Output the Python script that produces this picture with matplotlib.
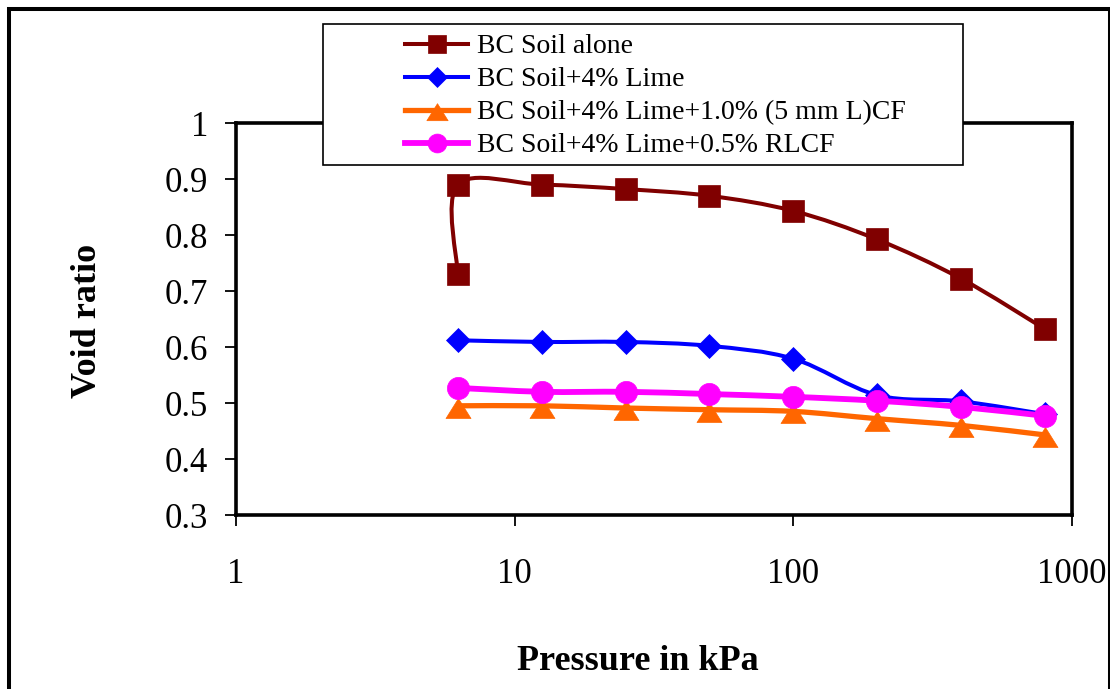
import numpy as np
import matplotlib
matplotlib.use("Agg")
import matplotlib.pyplot as plt
from matplotlib.path import Path
from matplotlib.patches import PathPatch, Rectangle
from matplotlib.lines import Line2D
from matplotlib.ticker import FixedLocator, NullLocator

plt.rcParams['font.family'] = ['Liberation Serif', 'DejaVu Serif']

# ---------------- data ----------------
pressure = [6.25, 12.5, 25, 50, 100, 200, 400, 800]
pressure_soil = [6.25, 6.25, 12.5, 25, 50, 100, 200, 400, 800]
void_soil = [0.730, 0.890, 0.890, 0.882, 0.870, 0.843, 0.792, 0.722, 0.632]
void_lime = [0.612, 0.609, 0.609, 0.602, 0.579, 0.514, 0.503, 0.480]
void_lime_cf = [0.495, 0.495, 0.491, 0.488, 0.485, 0.472, 0.460, 0.443]
void_lime_rlcf = [0.527, 0.520, 0.520, 0.516, 0.511, 0.504, 0.493, 0.477]

series_labels = ["BC Soil alone",
                 "BC Soil+4% Lime",
                 "BC Soil+4% Lime+1.0% (5 mm L)CF",
                 "BC Soil+4% Lime+0.5% RLCF"]

x_ticks = [1, 10, 100, 1000]
x_ticklabels = ["1", "10", "100", "1000"]
y_ticks = [0.3, 0.4, 0.5, 0.6, 0.7, 0.8, 0.9, 1.0]
y_ticklabels = ["0.3", "0.4", "0.5", "0.6", "0.7", "0.8", "0.9", "1"]

x_label = "Pressure in kPa"
y_label = "Void ratio"

# ---------------- styles ----------------
tri = Path([(0, 8), (-12.5, -12), (12.5, -12), (0, 8)],
           [Path.MOVETO, Path.LINETO, Path.LINETO, Path.CLOSEPOLY])
styles = [
    dict(color="#800000", lw=2.9, marker="s", ms=16),
    dict(color="#0000FF", lw=2.9, marker="D", ms=12),
    dict(color="#FF6600", lw=3.8, marker=tri, ms=18),
    dict(color="#FF00FF", lw=4.2, marker="o", ms=16),
]


def smooth_path(xs, ys):
    """Excel-like smoothed line (Catmull-Rom Bezier in log-x space)."""
    u = np.log10(np.asarray(xs, float))
    v = np.asarray(ys, float)
    n = len(u)
    verts = [(xs[0], ys[0])]
    codes = [Path.MOVETO]
    for i in range(n - 1):
        i0 = max(i - 1, 0)
        i3 = min(i + 2, n - 1)
        c1u = u[i] + (u[i + 1] - u[i0]) / 6.0
        c1v = v[i] + (v[i + 1] - v[i0]) / 6.0
        c2u = u[i + 1] - (u[i3] - u[i]) / 6.0
        c2v = v[i + 1] - (v[i3] - v[i]) / 6.0
        verts += [(10 ** c1u, c1v), (10 ** c2u, c2v), (xs[i + 1], ys[i + 1])]
        codes += [Path.CURVE4] * 3
    return Path(verts, codes)


W, H = 1110, 689
fig = plt.figure(figsize=(W / 100, H / 100), dpi=100)
fig.patch.set_facecolor("white")

ax = fig.add_axes([236 / W, 1 - 515 / H, (1072 - 236) / W, (515 - 123) / H])
ax.set_xscale("log")
ax.set_xlim(1, 1000)
ax.set_ylim(0.3, 1.0)

data = [(pressure_soil, void_soil), (pressure, void_lime),
        (pressure, void_lime_cf), (pressure, void_lime_rlcf)]

for k, ((xs, ys), st) in enumerate(zip(data, styles)):
    patch = PathPatch(smooth_path(xs, ys), facecolor="none", edgecolor=st["color"],
                      lw=st["lw"], transform=ax.transData, zorder=3 + 2 * k,
                      capstyle="round", joinstyle="round")
    ax.add_patch(patch)
    ax.plot(xs, ys, linestyle="none", marker=st["marker"], ms=st["ms"],
            color=st["color"], mec=st["color"], mew=0.5, zorder=4 + 2 * k,
            clip_on=False)

# axes styling
for sp in ax.spines.values():
    sp.set_linewidth(2.6)
    sp.set_color("black")
ax.xaxis.set_major_locator(FixedLocator(x_ticks))
ax.xaxis.set_minor_locator(NullLocator())
ax.set_xticklabels(x_ticklabels)
ax.yaxis.set_major_locator(FixedLocator(y_ticks))
ax.set_yticklabels(y_ticklabels)
ax.tick_params(axis="both", direction="out", length=8, width=1.3,
               labelsize=25, colors="black")
ax.tick_params(axis="x", pad=23)
ax.tick_params(axis="y", pad=12)

# axis titles
fig.text(638 / W, 1 - 670 / H, x_label, ha="center", va="baseline",
         fontsize=26, fontweight="bold")
fig.text(88 / W, 1 - 321 / H, y_label, ha="center", va="center",
         rotation=90, fontsize=26, fontweight="bold")

# legend box
fig.patches.append(Rectangle((323 / W, 1 - 165 / H), (963 - 323) / W, (165 - 24) / H,
                             transform=fig.transFigure, facecolor="white",
                             edgecolor="black", lw=1.2, zorder=2))

handles = []
for st in styles:
    handles.append(Line2D([], [], color=st["color"], lw=st["lw"], marker=st["marker"],
                          ms=st["ms"] * 0.85, mec=st["color"], mew=0.5))
leg = fig.legend(handles, series_labels, loc="upper left",
                 bbox_to_anchor=(405 / W, 1 - 34 / H), bbox_transform=fig.transFigure,
                 frameon=False, borderpad=0, borderaxespad=0, handlelength=2.27,
                 handletextpad=0.32, labelspacing=0.27, fontsize=20)
leg.set_zorder(5)

# outer frame
fig.patches.append(Rectangle((8.7 / W, -0.2), (1110.5 - 8.7) / W, 1.2 - 8.7 / H,
                             transform=fig.transFigure, facecolor="none",
                             edgecolor="black", lw=2.9, zorder=6, clip_on=False))

fig.savefig("out.png", dpi=100, facecolor="white")
